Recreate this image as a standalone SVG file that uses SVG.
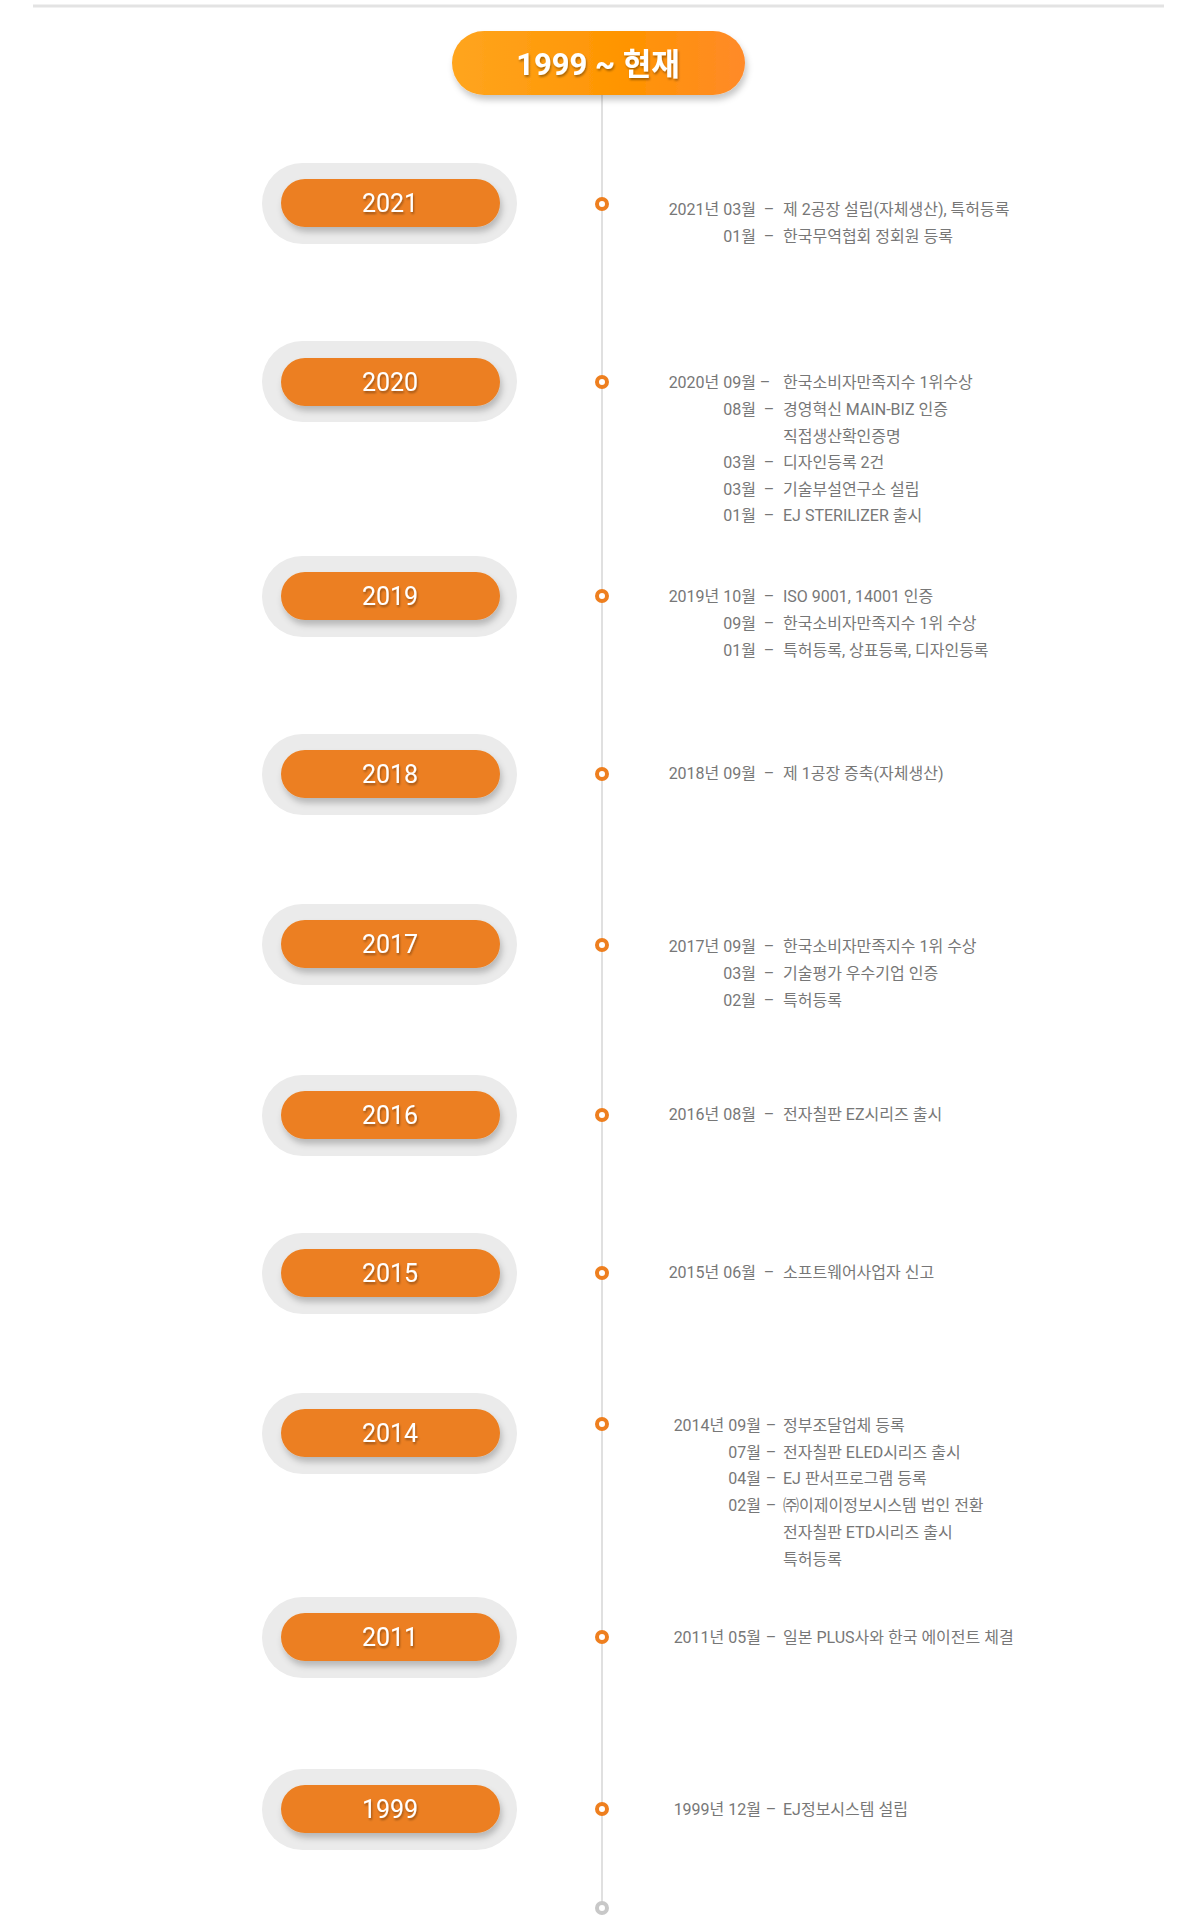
<svg xmlns="http://www.w3.org/2000/svg" width="1200" height="1923" viewBox="0 0 1200 1923">
<defs>
<linearGradient id="hg" x1="0" y1="0" x2="1" y2="0"><stop offset="0" stop-color="#ffa51f"/><stop offset="0.6" stop-color="#ff9400"/><stop offset="1" stop-color="#ff8a2a"/></linearGradient>
<filter id="sh" x="-20%" y="-40%" width="140%" height="190%"><feDropShadow dx="2" dy="5" stdDeviation="3" flood-color="#000" flood-opacity="0.22"/></filter>
<filter id="ts"><feDropShadow dx="1" dy="2" stdDeviation="1" flood-color="#000" flood-opacity="0.35"/></filter>
</defs>
<style>
.outer{fill:#ebebeb}
.inner{fill:#ec7f20;filter:url(#sh)}
.yr{font-family:Roboto,"Noto Sans CJK KR",sans-serif;font-size:25px;fill:#fff;text-anchor:middle;dominant-baseline:central;filter:url(#ts)}
.t{font-family:Roboto,"Noto Sans CJK KR",sans-serif;font-size:16px;fill:#777;dominant-baseline:central}
.m{text-anchor:end}
.d{text-anchor:middle}
.dot{fill:#fff;stroke:#ee7f1f;stroke-width:4}
</style>
<line x1="33" y1="6" x2="1164" y2="6" stroke="#e3e3e3" stroke-width="3"/>
<g id="connectors">
<line x1="602" y1="95" x2="602" y2="1905" stroke="#e0e0e0" stroke-width="2"/>
<circle cx="602" cy="1908" r="5" fill="#fff" stroke="#c8c8c8" stroke-width="4"/>
</g>
<g id="header">
<rect x="452" y="31" width="293" height="64" rx="32" fill="url(#hg)" filter="url(#sh)"/>
<text x="598" y="64" font-family="Roboto,'Noto Sans CJK KR',sans-serif" font-size="31" font-weight="bold" fill="#fff" text-anchor="middle" dominant-baseline="central" filter="url(#ts)">1999 ~ 현재</text>
</g>
<g id="y2021">
<rect class="outer" x="262" y="163" width="255" height="81" rx="40.5"/><rect class="inner" x="281" y="179" width="219" height="48" rx="24"/><text class="yr" x="390" y="203">2021</text>
<circle class="dot" cx="602" cy="204" r="5"/>
<text class="t m" x="756" y="209">2021년  03월</text><text class="t d" x="769" y="209">–</text><text class="t" x="783" y="209">제 2공장 설립(자체생산), 특허등록</text>
<text class="t m" x="756" y="236">01월</text><text class="t d" x="769" y="236">–</text><text class="t" x="783" y="236">한국무역협회 정회원 등록</text>
</g>
<g id="y2020">
<rect class="outer" x="262" y="341" width="255" height="81" rx="40.5"/><rect class="inner" x="281" y="358" width="219" height="48" rx="24"/><text class="yr" x="390" y="382">2020</text>
<circle class="dot" cx="602" cy="382" r="5"/>
<text class="t m" x="756" y="382">2020년 09월</text><text class="t d" x="765" y="382">–</text><text class="t" x="783" y="382">한국소비자만족지수 1위수상</text>
<text class="t m" x="756" y="409">08월</text><text class="t d" x="769" y="409">–</text><text class="t" x="783" y="409">경영혁신 MAIN-BIZ 인증</text>
<text class="t" x="783" y="436">직접생산확인증명</text>
<text class="t m" x="756" y="462">03월</text><text class="t d" x="769" y="462">–</text><text class="t" x="783" y="462">디자인등록 2건</text>
<text class="t m" x="756" y="489">03월</text><text class="t d" x="769" y="489">–</text><text class="t" x="783" y="489">기술부설연구소 설립</text>
<text class="t m" x="756" y="515">01월</text><text class="t d" x="769" y="515">–</text><text class="t" x="783" y="515">EJ STERILIZER 출시</text>
</g>
<g id="y2019">
<rect class="outer" x="262" y="556" width="255" height="81" rx="40.5"/><rect class="inner" x="281" y="572" width="219" height="48" rx="24"/><text class="yr" x="390" y="596">2019</text>
<circle class="dot" cx="602" cy="596" r="5"/>
<text class="t m" x="756" y="596">2019년 10월</text><text class="t d" x="769" y="596">–</text><text class="t" x="783" y="596">ISO 9001, 14001 인증</text>
<text class="t m" x="756" y="623">09월</text><text class="t d" x="769" y="623">–</text><text class="t" x="783" y="623">한국소비자만족지수 1위 수상</text>
<text class="t m" x="756" y="650">01월</text><text class="t d" x="769" y="650">–</text><text class="t" x="783" y="650">특허등록, 상표등록, 디자인등록</text>
</g>
<g id="y2018">
<rect class="outer" x="262" y="734" width="255" height="81" rx="40.5"/><rect class="inner" x="281" y="750" width="219" height="48" rx="24"/><text class="yr" x="390" y="774">2018</text>
<circle class="dot" cx="602" cy="774" r="5"/>
<text class="t m" x="756" y="773">2018년 09월</text><text class="t d" x="769" y="773">–</text><text class="t" x="783" y="773">제 1공장 증축(자체생산)</text>
</g>
<g id="y2017">
<rect class="outer" x="262" y="904" width="255" height="81" rx="40.5"/><rect class="inner" x="281" y="920" width="219" height="48" rx="24"/><text class="yr" x="390" y="944">2017</text>
<circle class="dot" cx="602" cy="945" r="5"/>
<text class="t m" x="756" y="946">2017년 09월</text><text class="t d" x="769" y="946">–</text><text class="t" x="783" y="946">한국소비자만족지수 1위 수상</text>
<text class="t m" x="756" y="973">03월</text><text class="t d" x="769" y="973">–</text><text class="t" x="783" y="973">기술평가 우수기업 인증</text>
<text class="t m" x="756" y="1000">02월</text><text class="t d" x="769" y="1000">–</text><text class="t" x="783" y="1000">특허등록</text>
</g>
<g id="y2016">
<rect class="outer" x="262" y="1075" width="255" height="81" rx="40.5"/><rect class="inner" x="281" y="1091" width="219" height="48" rx="24"/><text class="yr" x="390" y="1115">2016</text>
<circle class="dot" cx="602" cy="1115" r="5"/>
<text class="t m" x="756" y="1114">2016년 08월</text><text class="t d" x="769" y="1114">–</text><text class="t" x="783" y="1114">전자칠판 EZ시리즈 출시</text>
</g>
<g id="y2015">
<rect class="outer" x="262" y="1233" width="255" height="81" rx="40.5"/><rect class="inner" x="281" y="1249" width="219" height="48" rx="24"/><text class="yr" x="390" y="1273">2015</text>
<circle class="dot" cx="602" cy="1273" r="5"/>
<text class="t m" x="756" y="1272">2015년 06월</text><text class="t d" x="769" y="1272">–</text><text class="t" x="783" y="1272">소프트웨어사업자 신고</text>
</g>
<g id="y2014">
<rect class="outer" x="262" y="1393" width="255" height="81" rx="40.5"/><rect class="inner" x="281" y="1409" width="219" height="48" rx="24"/><text class="yr" x="390" y="1433">2014</text>
<circle class="dot" cx="602" cy="1424" r="5"/>
<text class="t m" x="761" y="1425">2014년 09월</text><text class="t d" x="771" y="1425">–</text><text class="t" x="783" y="1425">정부조달업체 등록</text>
<text class="t m" x="761" y="1452">07월</text><text class="t d" x="771" y="1452">–</text><text class="t" x="783" y="1452">전자칠판 ELED시리즈 출시</text>
<text class="t m" x="761" y="1478">04월</text><text class="t d" x="771" y="1478">–</text><text class="t" x="783" y="1478">EJ 판서프로그램 등록</text>
<text class="t m" x="761" y="1505">02월</text><text class="t d" x="771" y="1505">–</text><text class="t" x="783" y="1505">㈜이제이정보시스템 법인 전환</text>
<text class="t" x="783" y="1532">전자칠판 ETD시리즈 출시</text>
<text class="t" x="783" y="1559">특허등록</text>
</g>
<g id="y2011">
<rect class="outer" x="262" y="1597" width="255" height="81" rx="40.5"/><rect class="inner" x="281" y="1613" width="219" height="48" rx="24"/><text class="yr" x="390" y="1637">2011</text>
<circle class="dot" cx="602" cy="1637" r="5"/>
<text class="t m" x="761" y="1637">2011년 05월</text><text class="t d" x="771" y="1637">–</text><text class="t" x="783" y="1637">일본 PLUS사와 한국 에이전트 체결</text>
</g>
<g id="y1999">
<rect class="outer" x="262" y="1769" width="255" height="81" rx="40.5"/><rect class="inner" x="281" y="1785" width="219" height="48" rx="24"/><text class="yr" x="390" y="1809">1999</text>
<circle class="dot" cx="602" cy="1809" r="5"/>
<text class="t m" x="761" y="1809">1999년 12월</text><text class="t d" x="771" y="1809">–</text><text class="t" x="783" y="1809">EJ정보시스템 설립</text>
</g>
</svg>
